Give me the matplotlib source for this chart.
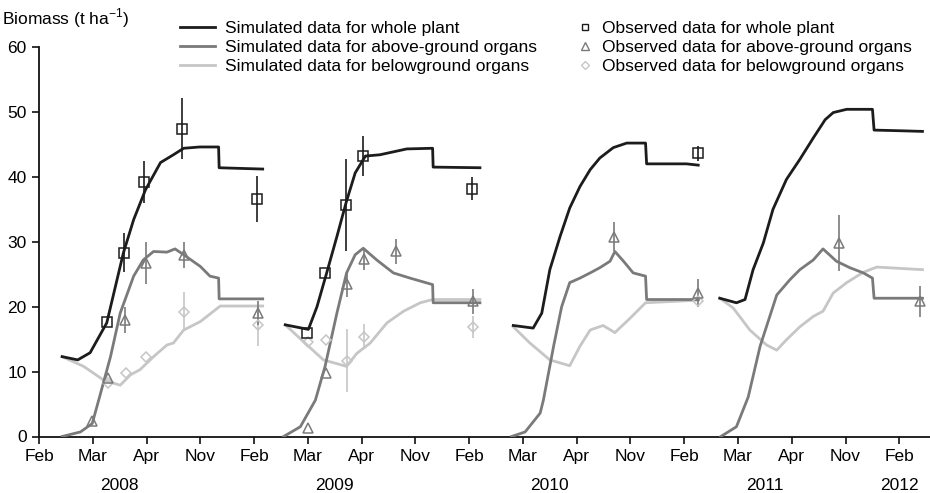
import numpy as np
import matplotlib
matplotlib.use("Agg")
import matplotlib.pyplot as plt
from matplotlib.lines import Line2D

plt.rcParams['font.family'] = ['Liberation Sans', 'DejaVu Sans']

# x axis positions are tick units: Feb=0, Mar=1, Apr=2, Nov=3, Feb=4, ...
tick_labels = ['Feb', 'Mar', 'Apr', 'Nov'] * 4 + ['Feb']
year_labels = ['2008', '2009', '2010', '2011', '2012']
year_pos = [1.5, 5.5, 9.5, 13.5, 16.0]

# simulated whole plant (per season)
whole_x = [
    [0.43, 0.72, 0.95, 1.26, 1.57, 1.76, 1.98, 2.26, 2.5, 2.69, 2.99, 3.34, 3.35, 3.74, 4.16],
    [4.58, 5.01, 5.17, 5.35, 5.54, 5.71, 5.88, 6.07, 6.34, 6.84, 7.32, 7.33, 8.2],
    [8.82, 9.19, 9.35, 9.5, 9.69, 9.87, 10.06, 10.25, 10.43, 10.68, 10.93, 11.28, 11.3, 12.04, 12.26],
    [12.66, 12.97, 13.13, 13.28, 13.47, 13.65, 13.9, 14.15, 14.4, 14.62, 14.77, 15.02, 15.5, 15.53, 16.01, 16.43],
]
whole_y = [
    [12.3, 11.8, 12.9, 17.5, 28.3, 33.4, 38.0, 42.2, 43.4, 44.4, 44.6, 44.6, 41.4, 41.3, 41.2],
    [17.2, 16.5, 20.0, 25.2, 30.8, 36.0, 40.6, 43.2, 43.4, 44.3, 44.4, 41.5, 41.4],
    [17.1, 16.7, 19.0, 25.7, 30.8, 35.2, 38.5, 41.1, 42.9, 44.5, 45.2, 45.2, 42.0, 42.0, 41.8],
    [21.3, 20.6, 21.1, 25.7, 29.8, 35.0, 39.6, 42.7, 46.0, 48.8, 49.9, 50.4, 50.4, 47.2, 47.1, 47.0],
]

# simulated above-ground organs
above_x = [
    [0.43, 0.77, 0.99, 1.11, 1.33, 1.51, 1.76, 1.94, 2.13, 2.38, 2.53, 2.69, 3.0, 3.18, 3.34, 3.35, 4.16],
    [4.55, 4.86, 5.14, 5.32, 5.54, 5.72, 5.88, 6.03, 6.28, 6.59, 6.9, 7.32, 7.33, 8.2],
    [8.79, 9.04, 9.32, 9.38, 9.57, 9.72, 9.87, 10.06, 10.25, 10.43, 10.62, 10.71, 10.87, 11.05, 11.28, 11.3, 12.26],
    [12.68, 12.97, 13.19, 13.41, 13.72, 13.97, 14.15, 14.4, 14.58, 14.83, 15.08, 15.33, 15.5, 15.53, 16.43],
]
above_y = [
    [0.0, 0.7, 2.0, 5.6, 12.3, 19.0, 24.7, 27.2, 28.5, 28.4, 28.9, 28.0, 26.2, 24.7, 24.4, 21.2, 21.2],
    [0.0, 1.5, 5.6, 10.8, 19.0, 25.2, 28.0, 29.0, 27.2, 25.2, 24.4, 23.4, 20.6, 20.6],
    [0.0, 0.7, 3.6, 5.6, 13.9, 20.0, 23.7, 24.4, 25.2, 26.0, 27.0, 28.5, 27.0, 25.2, 24.7, 21.1, 21.1],
    [0.0, 1.5, 6.1, 13.9, 21.8, 24.2, 25.7, 27.2, 28.9, 27.0, 26.0, 25.2, 24.4, 21.3, 21.3],
]

# simulated belowground organs
below_x = [
    [0.43, 0.83, 1.2, 1.51, 1.7, 1.88, 2.13, 2.38, 2.5, 2.69, 3.0, 3.37, 4.16],
    [4.58, 4.92, 5.29, 5.72, 5.91, 6.16, 6.47, 6.78, 7.09, 7.32, 8.2],
    [8.82, 9.13, 9.5, 9.87, 10.06, 10.25, 10.49, 10.71, 10.99, 11.28, 12.26],
    [12.66, 12.91, 13.22, 13.53, 13.72, 13.9, 14.15, 14.4, 14.58, 14.77, 15.02, 15.33, 15.58, 16.43],
]
below_y = [
    [12.3, 10.8, 8.7, 7.9, 9.5, 10.3, 12.3, 14.1, 14.4, 16.4, 17.7, 20.1, 20.1],
    [17.2, 14.6, 11.8, 10.8, 12.8, 14.4, 17.5, 19.3, 20.6, 21.1, 21.1],
    [16.9, 14.4, 11.8, 10.9, 13.9, 16.4, 17.1, 16.0, 18.2, 20.6, 21.0],
    [21.3, 19.8, 16.4, 14.1, 13.3, 14.9, 16.9, 18.5, 19.3, 22.1, 23.7, 25.3, 26.1, 25.7],
]

# observed data (x, value, error)
obs_whole_x = [1.26, 1.59, 1.96, 2.66, 4.06, 4.99, 5.31, 5.71, 6.03, 8.05, 12.25]
obs_whole_y = [17.6, 28.3, 39.2, 47.4, 36.6, 15.9, 25.2, 35.7, 43.2, 38.2, 43.6]
obs_whole_e = [0.0, 3.0, 3.2, 4.7, 3.6, 0.0, 0.0, 7.1, 3.1, 1.7, 1.1]

obs_above_x = [0.99, 1.29, 1.6, 1.99, 2.69, 4.08, 5.01, 5.33, 5.72, 6.05, 6.63, 8.08, 10.7, 12.26, 14.88, 16.38]
obs_above_y = [2.4, 9.0, 18.0, 26.7, 28.0, 19.0, 1.3, 9.8, 23.5, 27.3, 28.5, 20.8, 30.8, 22.1, 29.8, 20.8]
obs_above_e = [0.0, 0.0, 2.0, 3.2, 2.0, 1.8, 0.0, 0.0, 2.0, 1.7, 2.0, 1.9, 2.3, 2.2, 4.3, 2.4]

obs_below_x = [1.29, 1.62, 1.99, 2.69, 4.08, 5.01, 5.33, 5.72, 6.05, 8.07, 12.26]
obs_below_y = [8.2, 9.8, 12.2, 19.2, 17.1, 14.5, 14.8, 11.7, 15.4, 16.9, 20.8]
obs_below_e = [0.0, 0.0, 0.0, 3.0, 3.1, 0.0, 0.0, 4.9, 1.9, 1.7, 0.0]

c_whole = '#1c1c1c'
c_above = '#7a7a7a'
c_below = '#c6c6c6'
fs = 12.5

fig = plt.figure(figsize=(9.3, 4.93), dpi=100)
ax = fig.add_axes([39 / 930, (493 - 436.5) / 493, 1 - 39 / 930, 389.5 / 493])

for xs, ys in zip(below_x, below_y):
    ax.plot(xs, ys, color=c_below, lw=2.0, zorder=2)
for xs, ys in zip(above_x, above_y):
    ax.plot(xs, ys, color=c_above, lw=2.0, zorder=3)
for xs, ys in zip(whole_x, whole_y):
    ax.plot(xs, ys, color=c_whole, lw=2.0, zorder=4)

def observed(xs, ys, es, marker, color, ms):
    ax.errorbar(xs, ys, yerr=es, fmt='none', ecolor=color, elinewidth=1.2, capsize=0, zorder=5)
    ax.plot(xs, ys, ls='none', marker=marker, ms=ms, mfc='none', mec=color, mew=1.1, zorder=6)

observed(obs_below_x, obs_below_y, obs_below_e, 'D', c_below, 5.5)
observed(obs_above_x, obs_above_y, obs_above_e, '^', c_above, 7)
observed(obs_whole_x, obs_whole_y, obs_whole_e, 's', c_whole, 6.5)

ax.set_xlim(0, 16.57)
ax.set_ylim(0, 60)
ax.set_xticks(range(len(tick_labels)))
ax.set_xticklabels(tick_labels)
ax.set_yticks([0, 10, 20, 30, 40, 50, 60])
ax.tick_params(axis='both', direction='out', length=5, width=1.2, labelsize=fs, color='#111111')
ax.tick_params(axis='x', pad=4)
ax.tick_params(axis='y', pad=4)
for s in ['top', 'right']:
    ax.spines[s].set_visible(False)
for s in ['left', 'bottom']:
    ax.spines[s].set_linewidth(1.3)
    ax.spines[s].set_color('#111111')

for lab, xp in zip(year_labels, year_pos):
    ax.text(xp, -0.125, lab, transform=ax.get_xaxis_transform(), ha='center', va='center', fontsize=fs)

fig.text(2 / 930, 1 - 18 / 493, 'Biomass (t ha$^{\\mathregular{-1}}$)', ha='left', va='center', fontsize=fs)

sim_handles = [Line2D([], [], color=c, lw=2) for c in (c_whole, c_above, c_below)]
sim_labels = ['Simulated data for whole plant', 'Simulated data for above-ground organs',
              'Simulated data for belowground organs']
obs_handles = [Line2D([], [], ls='none', marker=m, mfc='none', mec=c, ms=ms, mew=1)
               for m, c, ms in (('s', c_whole, 5), ('^', c_above, 6), ('D', c_below, 4.5))]
obs_labels = ['Observed data for whole plant', 'Observed data for above-ground organs',
              'Observed data for belowground organs']

leg1 = fig.legend(sim_handles, sim_labels, loc='upper left', bbox_to_anchor=(180 / 930, 1 - 21 / 493),
                  frameon=False, fontsize=fs, handlelength=2.0, handletextpad=0.6, labelspacing=0.22,
                  borderpad=0, borderaxespad=0)
leg2 = fig.legend(obs_handles, obs_labels, loc='upper left', bbox_to_anchor=(576 / 930, 1 - 21 / 493),
                  frameon=False, fontsize=fs, handlelength=1.0, handletextpad=0.5, labelspacing=0.22,
                  borderpad=0, borderaxespad=0)

fig.savefig('out.png', dpi=100)
